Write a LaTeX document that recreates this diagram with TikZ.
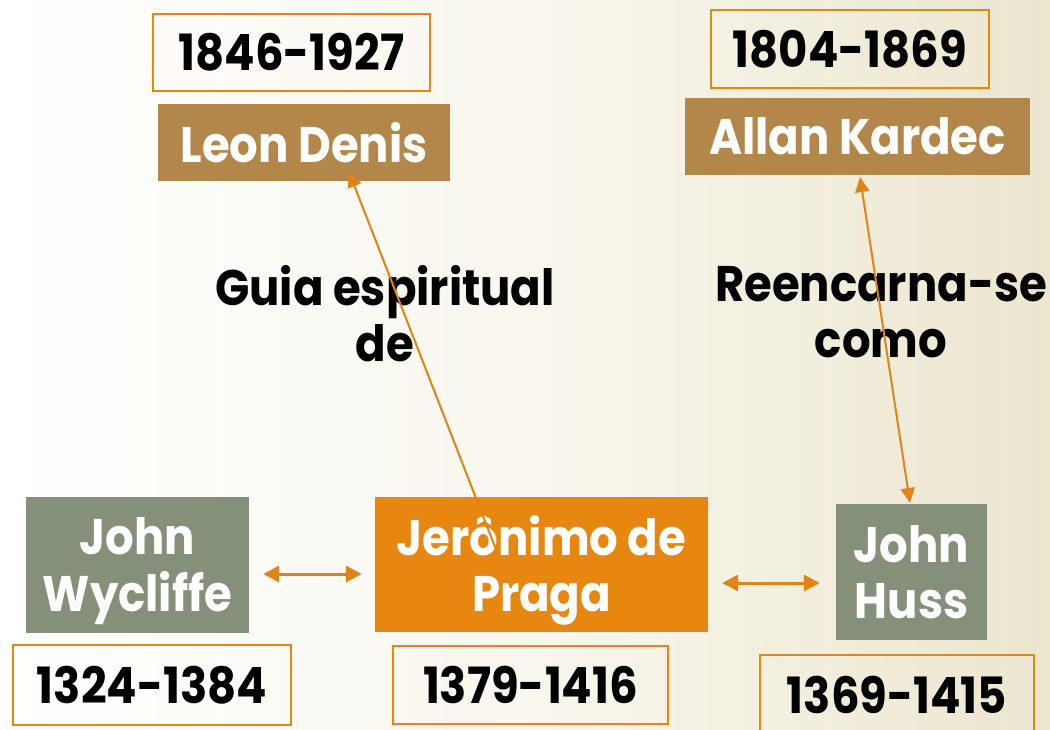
\documentclass[tikz,border=0pt]{standalone}
\usepackage{fontspec}
\setmainfont{Poppins}[FakeStretch=0.9]
\usetikzlibrary{arrows.meta}
\definecolor{bgR}{RGB}{236,230,207}
\definecolor{bgM}{RGB}{248,246,236}
\definecolor{brownbox}{RGB}{179,135,74}
\definecolor{greenbox}{RGB}{132,144,122}
\definecolor{orangebox}{RGB}{232,135,16}
\definecolor{arrowc}{RGB}{224,132,24}
\pgfdeclarehorizontalshading{bgsh}{100bp}{color(0bp)=(white); color(25bp)=(white); color(52bp)=(bgM); color(75bp)=(bgR); color(100bp)=(bgR)}
\newcommand{\twolines}[2]{\raisebox{-7pt}[\height][\depth]{\begin{tabular}{@{}c@{}}#1\\#2\end{tabular}}}
\tikzset{
  datebox/.style={draw=orangebox, line width=1.5pt, inner sep=0pt, text=black,
    font=\fontsize{50}{56}\selectfont\bfseries},
  namebox/.style={fill=brownbox, inner sep=0pt, text=white,
    font=\fontsize{50}{56}\selectfont\bfseries},
  personbox/.style={inner sep=0pt, text=white,
    font=\fontsize{50}{56}\selectfont\bfseries},
  lbl/.style={inner sep=0pt, text=black, align=center,
    font=\fontsize{50}{56}\selectfont\bfseries},
  dbl/.style={arrowc, line width=3pt, {Triangle[length=16pt,width=16pt]}-{Triangle[length=16pt,width=16pt]}},
  sgl/.style={arrowc, line width=2pt, -{Triangle[length=15pt,width=14pt]}},
  dbl2/.style={arrowc, line width=2pt, {Triangle[length=15pt,width=14pt]}-{Triangle[length=15pt,width=14pt]}}
}
\begin{document}
\begin{tikzpicture}[x=1pt,y=-1pt]
\useasboundingbox (0,0) rectangle (1050,730);
\shade[shading=bgsh] (0,0) rectangle (1050,730);
% top
\node[datebox, minimum width=277pt, minimum height=77pt] (d1) at (291.5,52.5) {1846-1927};
\node[namebox, minimum width=292pt, minimum height=77pt] (leon) at (304,142.5) {Leon Denis};
\node[datebox, minimum width=278pt, minimum height=78pt] (d2) at (850,49) {1804-1869};
\node[namebox, minimum width=345pt, minimum height=77pt] (kardec) at (857.5,136.5) {Allan Kardec};
% labels
\node[lbl] (guia) at (385,314) {Guia espiritual\\de};
\node[lbl] (reenc) at (881,312) {Reencarna-se\\como};
% persons
\node[personbox, fill=greenbox, minimum width=223pt, minimum height=136pt] (wyc) at (137.5,565) {\twolines{John}{Wycliffe}};
\node[personbox, fill=orangebox, minimum width=333pt, minimum height=135pt] (jer) at (541.5,564.5) {\twolines{Jerônimo de}{Praga}};
\node[personbox, fill=greenbox, minimum width=151pt, minimum height=136pt] (huss) at (911.5,572) {\twolines{John}{Huss}};
% bottom dates
\node[datebox, minimum width=278pt, minimum height=80pt] (d3) at (152,685) {1324-1384};
\node[datebox, minimum width=275pt, minimum height=78pt] (d4) at (530.5,685) {1379-1416};
\node[datebox, minimum width=274pt, minimum height=80pt] (d5) at (897,695) {1369-1415};
% connectors
\draw[dbl, shorten <=14pt, shorten >=13pt] ([yshift=-9pt]wyc.east) -- ([yshift=-9pt]wyc.east -| jer.west);
\draw[dbl, shorten <=14pt, shorten >=16pt] ([yshift=-11pt]huss.west -| jer.east) -- ([yshift=-11pt]huss.west);
\draw[sgl] ([xshift=-30.5pt,yshift=-23.5pt]jer.center) -- ([xshift=45pt,yshift=-29.5pt]leon.center);
\draw[dbl2] ([xshift=2.5pt,yshift=-40.5pt]kardec.center) -- ([xshift=-1.5pt,yshift=69pt]huss.center);
\end{tikzpicture}
\end{document}
